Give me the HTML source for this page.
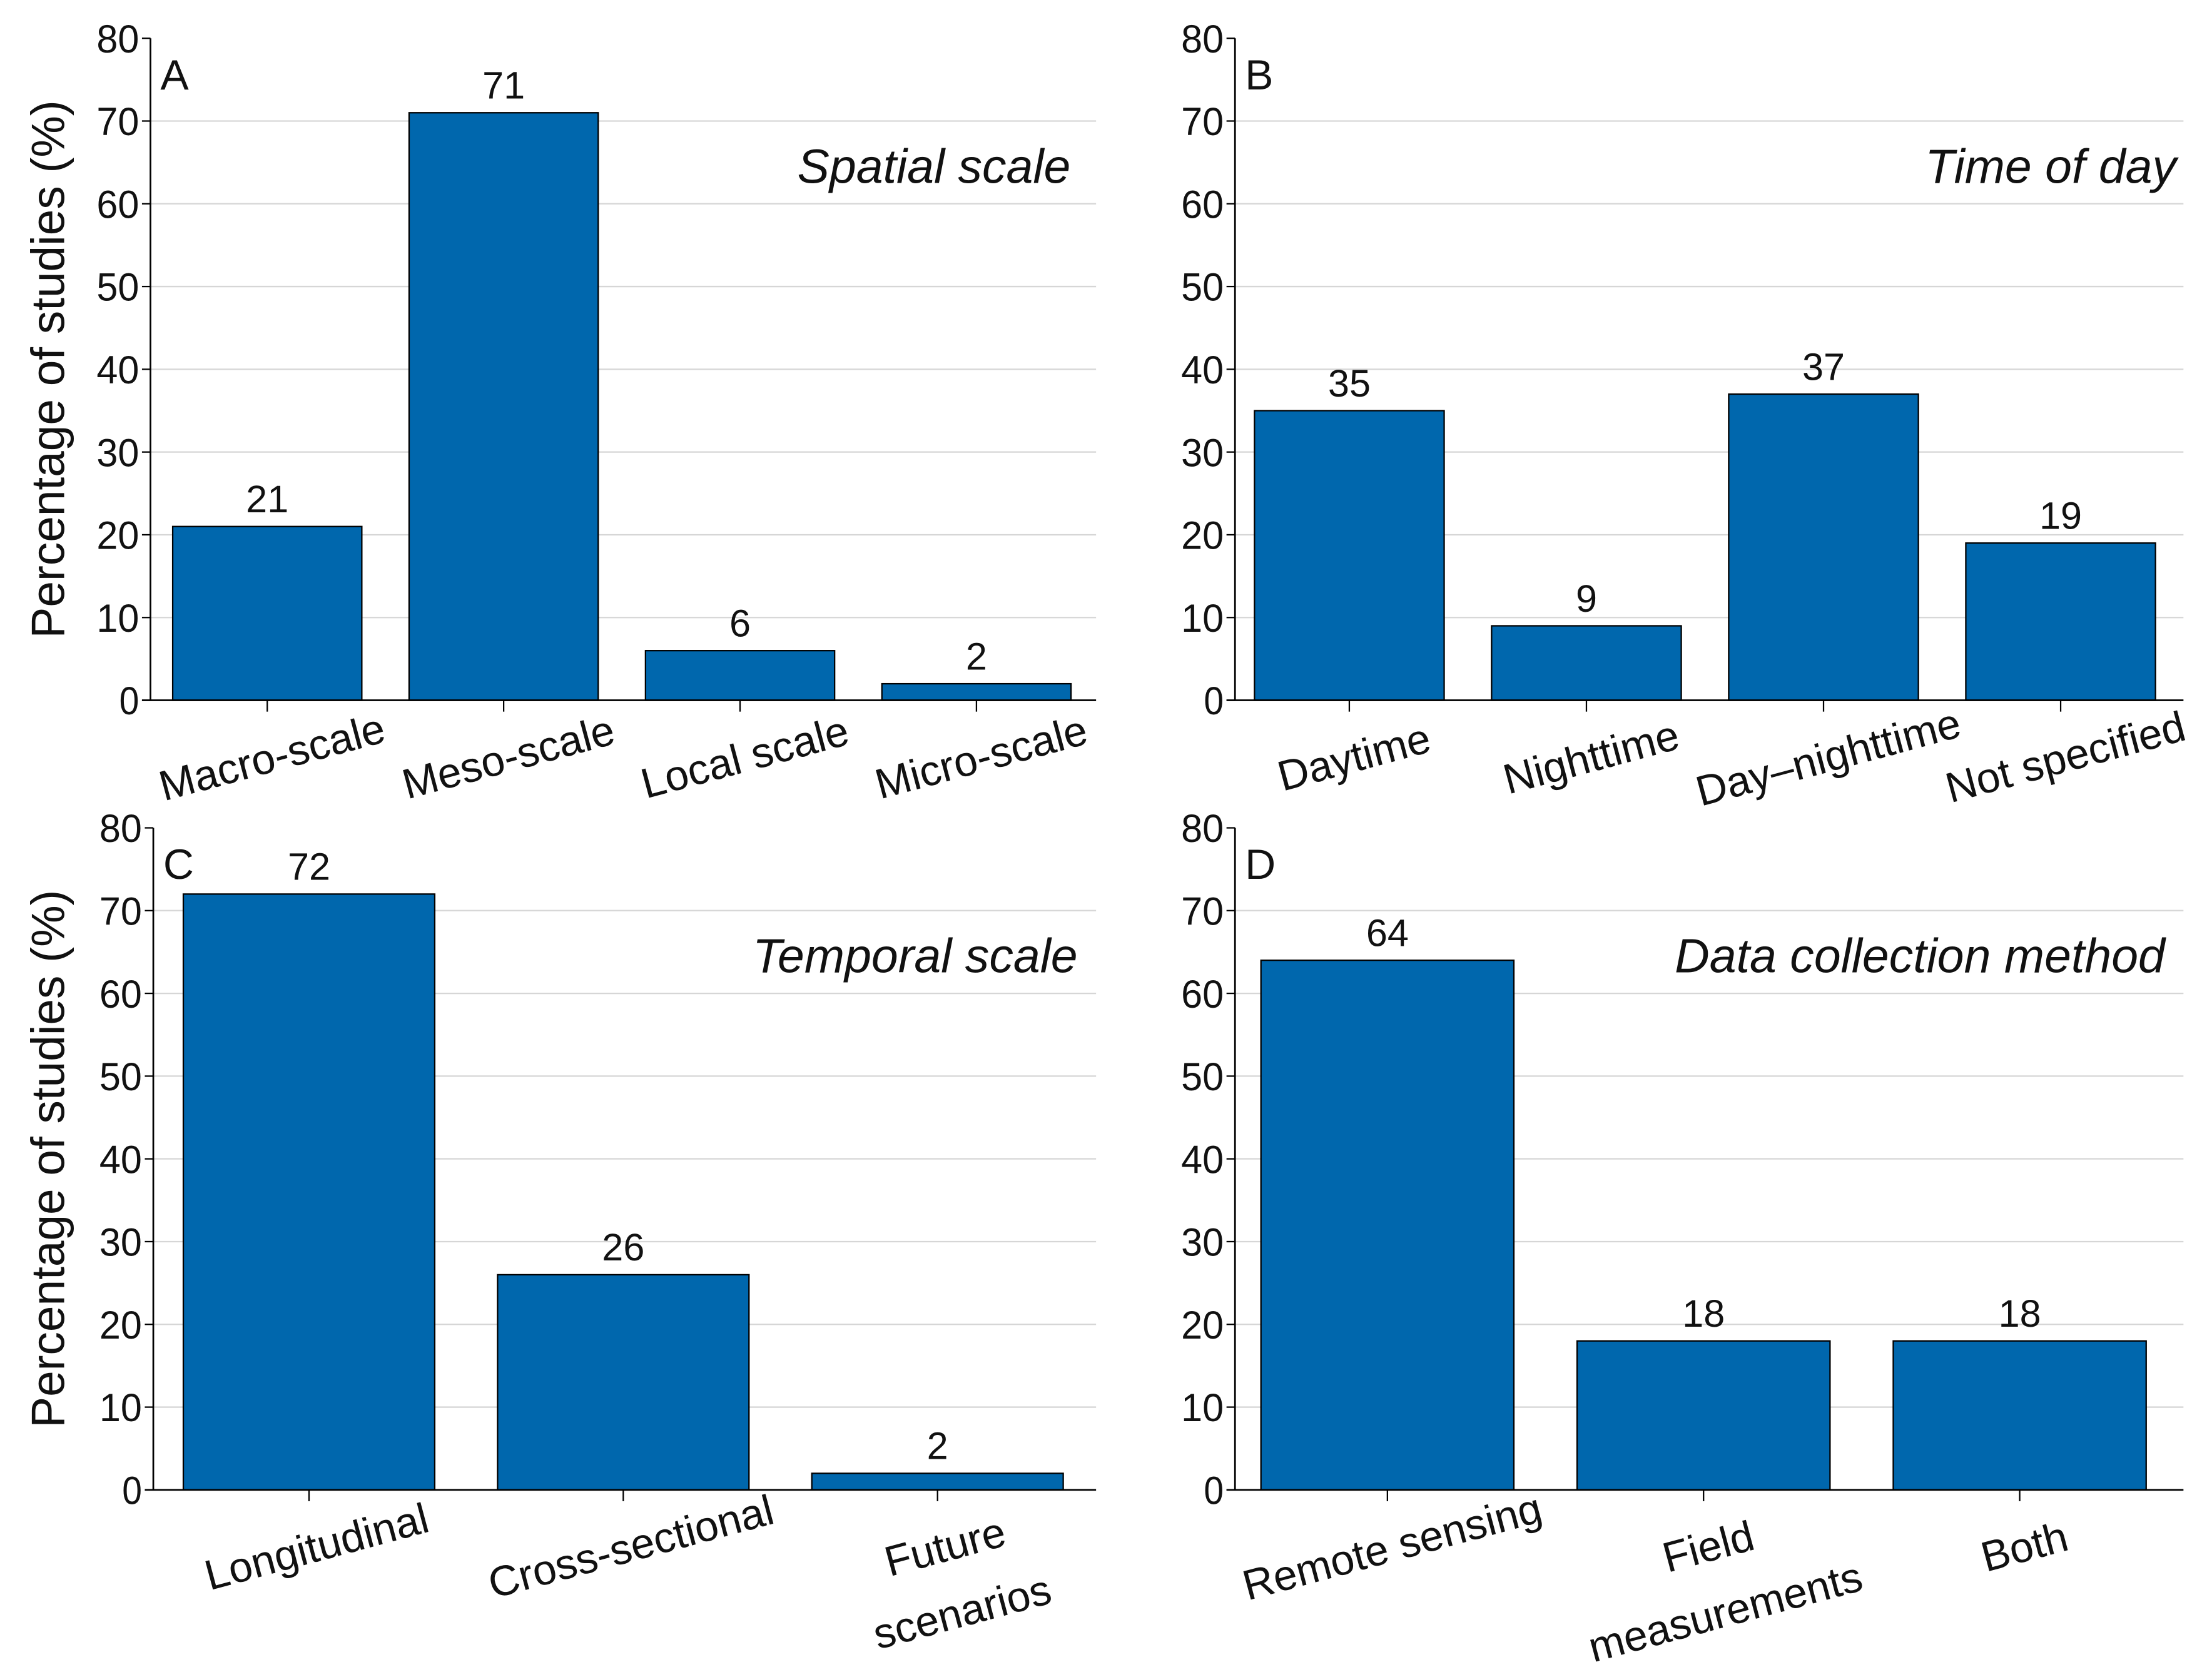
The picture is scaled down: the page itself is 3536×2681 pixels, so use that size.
<!DOCTYPE html>
<html><head><meta charset="utf-8"><style>
html,body{margin:0;padding:0;background:#fff;}
svg{display:block;}
text{font-family:"Liberation Sans",sans-serif;fill:#111;}
</style></head>
<body>
<svg id="fig" width="3536" height="2681" viewBox="0 0 1560 1183" xmlns="http://www.w3.org/2000/svg"></svg>
<script>
// Panel A
const catsA = ["Macro-scale","Meso-scale","Local scale","Micro-scale"];
const valsA = [21,71,6,2];
// Panel B
const catsB = ["Daytime","Nighttime","Day\u2013nighttime","Not specified"];
const valsB = [35,9,37,19];
// Panel C
const catsC = [["Longitudinal"],["Cross-sectional"],["Future","scenarios"]];
const valsC = [72,26,2];
// Panel D
const catsD = [["Remote sensing"],["Field","measurements"],["Both"]];
const valsD = [64,18,18];
const yTicks = [0,10,20,30,40,50,60,70,80];

const NS="http://www.w3.org/2000/svg";
const svg=document.getElementById('fig');
function mk(tag,attrs,parent,txt){const e=document.createElementNS(NS,tag);for(const k in attrs)e.setAttribute(k,attrs[k]);if(txt!==undefined)e.textContent=txt;(parent||svg).appendChild(e);return e;}

function panel(o){
  const g=mk('g',{});
  
  
  const y=v=>o.y0-(v/80)*(o.y0-o.y80);
  const n=o.cats.length;
  const step=(o.right-o.axX)/n;
  const bw=step*o.frac;
  const cx=i=>o.axX+step*(i+0.5)+o.shift;
  yTicks.forEach(t=>{
    if(t>0&&t<80){const l=mk('line',{x1:o.axX,x2:o.right,y1:y(t),y2:y(t),stroke:'#d6d6d6','stroke-width':1},g);
      }
    const tk=mk('line',{x1:o.axX-6,x2:o.axX,y1:y(t),y2:y(t),stroke:'#000','stroke-width':1},g);
    
    const tl=mk('text',{x:o.axX-8,y:y(t)+10,'text-anchor':'end','font-size':28,textLength:t?30:14,lengthAdjust:'spacingAndGlyphs'},g,String(t));
    
  });
  o.vals.forEach((v,i)=>{
    const r=mk('rect',{x:cx(i)-bw/2,y:y(v),width:bw,height:y(0)-y(v),fill:'#0067ad',stroke:'#000','stroke-width':1},g);
    
    const vl=mk('text',{x:cx(i),y:y(v)-10,'text-anchor':'middle','font-size':27},g,String(v));
    
    const xt=mk('line',{x1:cx(i),x2:cx(i),y1:o.y0,y2:o.y0+8,stroke:'#000','stroke-width':1},g);
    
    const lines=Array.isArray(o.cats[i])?o.cats[i]:[o.cats[i]];
    lines.forEach((s,j)=>{
      const lx=cx(i)+o.lblDx+j*12, ly=o.y0+o.lblDy+j*46;
      const t=mk('text',{x:lx,y:ly,'text-anchor':'middle','font-size':30,transform:`rotate(-15 ${lx} ${ly})`},g,s);
      
    });
  });
  const ya=mk('line',{x1:o.axX,x2:o.axX,y1:o.y80,y2:o.y0,stroke:'#000','stroke-width':1.2},g);
  
  const xa=mk('line',{x1:o.axX-6,x2:o.right,y1:o.y0,y2:o.y0,stroke:'#000','stroke-width':1.2},g);
  
  const L=mk('text',{x:o.axX+7,y:o.y80+36,'font-size':30},g,o.letter);
  
  const T=mk('text',{x:o.titleX,y:o.y80+102,'text-anchor':'end','font-size':34,'font-style':'italic'},g,o.title);
  
  if(o.ytitle){
    const yt=mk('text',{x:0,y:0,'text-anchor':'middle','font-size':33,transform:`translate(45 ${(o.y0+o.y80)/2}) rotate(-90)`},g,'Percentage of studies (%)');
    
  }
}
panel({letter:'A',title:'Spatial scale',titleX:755,cats:catsA,vals:valsA,axX:106,right:773,y0:494,y80:27,frac:0.8,shift:-1,lblDx:6,lblDy:50,ytitle:true});
panel({letter:'B',title:'Time of day',titleX:1535,cats:catsB,vals:valsB,axX:871,right:1540,y0:494,y80:27,frac:0.8,shift:-3,lblDx:6,lblDy:50,ytitle:false});
panel({letter:'C',title:'Temporal scale',titleX:760,cats:catsC,vals:valsC,axX:108,right:773,y0:1051,y80:584,frac:0.8,shift:-1,lblDx:8,lblDy:50,ytitle:true});
panel({letter:'D',title:'Data collection method',titleX:1527,cats:catsD,vals:valsD,axX:871,right:1540,y0:1051,y80:584,frac:0.8,shift:-4,lblDx:6,lblDy:50,ytitle:false});
</script>
</body></html>
